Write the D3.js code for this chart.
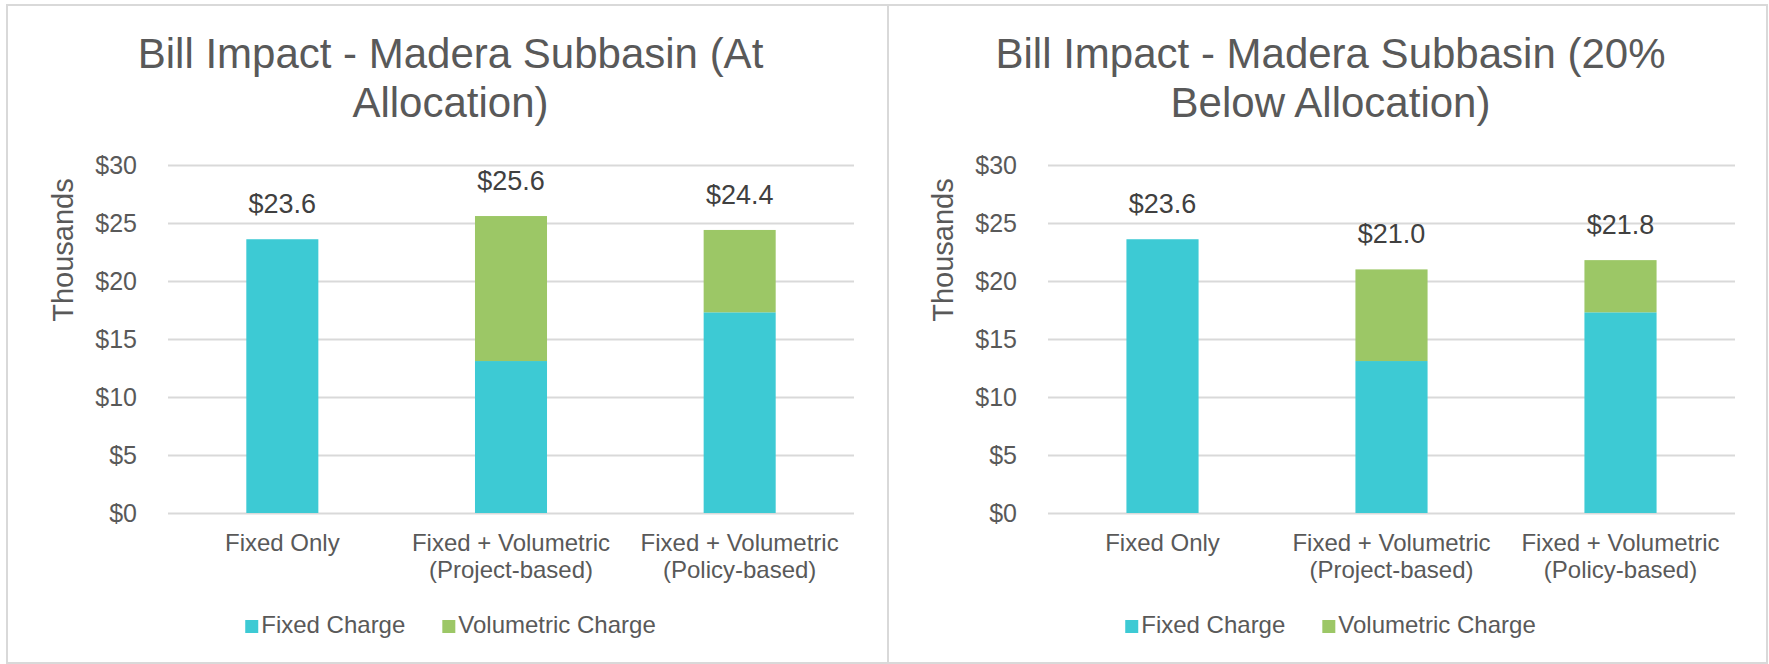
<!DOCTYPE html>
<html>
<head>
<meta charset="utf-8">
<script src="https://cdn.jsdelivr.net/npm/d3@7"></script>
<style>
  html, body { margin: 0; padding: 0; background: #ffffff; }
  svg { display: block; font-family: "Liberation Sans", Arial, sans-serif; }
</style>
</head>
<body>
<svg id="chart" width="1769" height="664"></svg>
<script>
// ---- Data ----
const categories = [
  ["Fixed Only"],
  ["Fixed + Volumetric", "(Project-based)"],
  ["Fixed + Volumetric", "(Policy-based)"]
];
const seriesNames = ["Fixed Charge", "Volumetric Charge"];
const seriesColors = ["#3dcad4", "#9cc766"];

const titleAtAllocation = ["Bill Impact - Madera Subbasin (At", "Allocation)"];
const fixedAtAllocation = [23.6, 13.1, 17.3];
const volumetricAtAllocation = [0, 12.5, 7.1];
const totalLabelsAtAllocation = ["$23.6", "$25.6", "$24.4"];

const titleBelowAllocation = ["Bill Impact - Madera Subbasin (20%", "Below Allocation)"];
const fixedBelowAllocation = [23.6, 13.1, 17.3];
const volumetricBelowAllocation = [0, 7.9, 4.5];
const totalLabelsBelowAllocation = ["$23.6", "$21.0", "$21.8"];

const yTicks = [0, 5, 10, 15, 20, 25, 30];
const yTickLabels = ["$0", "$5", "$10", "$15", "$20", "$25", "$30"];
const yAxisTitle = "Thousands";

// ---- Layout ----
const svg = d3.select("#chart");
const textColor = "#595959";
const gridColor = "#d9d9d9";
const borderColor = "#d9d9d9";

const panels = [
  { x0: 7, x1: 888, plotL: 168, plotR: 854, title: titleAtAllocation,
    fixed: fixedAtAllocation, vol: volumetricAtAllocation, labels: totalLabelsAtAllocation },
  { x0: 888, x1: 1767, plotL: 1048, plotR: 1735, title: titleBelowAllocation,
    fixed: fixedBelowAllocation, vol: volumetricBelowAllocation, labels: totalLabelsBelowAllocation }
];

const plotTop = 165, plotBottom = 513;

// borders
panels.forEach(p => {
  svg.append("rect")
    .attr("x", p.x0).attr("y", 5)
    .attr("width", p.x1 - p.x0).attr("height", 658)
    .attr("fill", "none").attr("stroke", borderColor).attr("stroke-width", 2);
});

panels.forEach(p => {
  const g = svg.append("g");
  const cx = (p.x0 + p.x1) / 2 + 3;

  // title
  g.append("text").attr("x", cx).attr("y", 68)
    .attr("text-anchor", "middle").attr("font-size", 42).attr("fill", textColor)
    .text(p.title[0]);
  g.append("text").attr("x", cx).attr("y", 117)
    .attr("text-anchor", "middle").attr("font-size", 42).attr("fill", textColor)
    .text(p.title[1]);

  const x = d3.scaleBand()
    .domain(d3.range(categories.length))
    .range([p.plotL, p.plotR])
    .paddingInner(0.685).paddingOuter(0.3425);
  const y = d3.scaleLinear().domain([0, 30]).range([plotBottom, plotTop]);

  // gridlines
  const yAxis = d3.axisLeft(y).tickValues(yTicks)
    .tickSize(-(p.plotR - p.plotL))
    .tickFormat((d, i) => yTickLabels[i]);
  const ya = g.append("g").attr("transform", `translate(${p.plotL},0)`).call(yAxis);
  ya.select(".domain").remove();
  ya.selectAll(".tick line").attr("stroke", gridColor).attr("stroke-width", 2);
  ya.selectAll(".tick text")
    .attr("x", -31).attr("font-size", 25).attr("fill", textColor)
    .attr("font-family", "Liberation Sans, Arial, sans-serif");

  // y title
  g.append("text")
    .attr("transform", `translate(${p.plotL - 95},250) rotate(-90)`)
    .attr("text-anchor", "middle").attr("font-size", 29).attr("fill", textColor)
    .text(yAxisTitle);

  // stacked data
  const rows = categories.map((c, i) => ({ i, fixed: p.fixed[i], vol: p.vol[i] }));
  const stack = d3.stack().keys(["fixed", "vol"])(rows);
  stack.forEach((layer, li) => {
    g.append("g").selectAll("rect").data(layer).join("rect")
      .attr("x", d => x(d.data.i))
      .attr("width", x.bandwidth())
      .attr("y", d => y(d[1]))
      .attr("height", d => y(d[0]) - y(d[1]))
      .attr("fill", seriesColors[li]);
  });

  // total labels
  g.append("g").selectAll("text").data(rows).join("text")
    .attr("x", d => x(d.i) + x.bandwidth() / 2)
    .attr("y", d => y(d.fixed + d.vol) - 26)
    .attr("text-anchor", "middle").attr("font-size", 27).attr("fill", "#404040")
    .text((d, i) => p.labels[i]);

  // x labels
  categories.forEach((lines, i) => {
    const t = g.append("text")
      .attr("x", x(i) + x.bandwidth() / 2)
      .attr("y", 551)
      .attr("text-anchor", "middle").attr("font-size", 24).attr("fill", textColor);
    lines.forEach((ln, k) => {
      t.append("tspan").attr("x", x(i) + x.bandwidth() / 2)
        .attr("dy", k === 0 ? 0 : 27).text(ln);
    });
  });

  // legend
  const legend = g.append("g");
  let lx = 0;
  const items = [];
  seriesNames.forEach((name, i) => {
    const it = legend.append("g").attr("transform", `translate(${lx},0)`);
    it.append("rect").attr("x", 0).attr("y", 620).attr("width", 13).attr("height", 13)
      .attr("fill", seriesColors[i]);
    const tx = it.append("text").attr("x", 16).attr("y", 633)
      .attr("font-size", 24).attr("fill", textColor).text(name);
    const w = 16 + tx.node().getComputedTextLength();
    lx += w + 37;
    items.push(w);
  });
  const totalW = lx - 37;
  legend.attr("transform", `translate(${cx - totalW / 2},0)`);
});
</script>
</body>
</html>
